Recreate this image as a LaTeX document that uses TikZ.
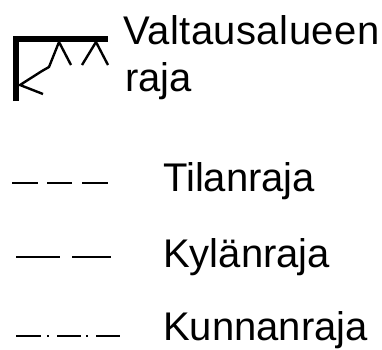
\documentclass[tikz,border=0pt]{standalone}
\usepackage{fontspec}
\setmainfont{Liberation Sans}
\begin{document}
\begin{tikzpicture}[x=1pt,y=-1pt,
  lbl/.style={anchor=base west,inner sep=0pt,font=\fontsize{40}{48}\selectfont},
  thickbar/.style={line width=6pt,line cap=butt,line join=miter},
  thinline/.style={line width=2.4pt,line join=miter},
  legline/.style={line width=2pt}]
\useasboundingbox (0,0) rectangle (382,349);
% valtausalueen raja symbol
\draw[thickbar] (16,101) -- (16,38.5) -- (108,38.5);
\draw[thinline] (43,94) -- (20,85) -- (42,71) -- (49,67) -- (59,42) -- (71,65);
\draw[thinline] (82,65) -- (96,42) -- (108,65);
\node[lbl] (t1) at (123,44) {\addfontfeature{LetterSpace=1.2}Valtausalueen};
\node[lbl] (t2) at (125,91) {raja};
% tilanraja
\draw[legline] (12,183) -- (38,183);
\draw[legline] (47,183) -- (72,183);
\draw[legline] (82,183) -- (108,183);
\node[lbl] (t3) at (163,191) {Tilanraja};
% kylanraja
\draw[legline] (16,257) -- (60,257);
\draw[legline] (72,257) -- (111,257);
\node[lbl] (t4) at (163,267) {Kylänraja};
% kunnanraja
\draw[legline] (16,336) -- (41,336);
\draw[legline] (47,336) -- (49,336);
\draw[legline] (57,336) -- (81,336);
\draw[legline] (86,336) -- (88,336);
\draw[legline] (96,336) -- (120,336);
\node[lbl] (t5) at (163,340) {Kunnanraja};
\end{tikzpicture}
\end{document}
